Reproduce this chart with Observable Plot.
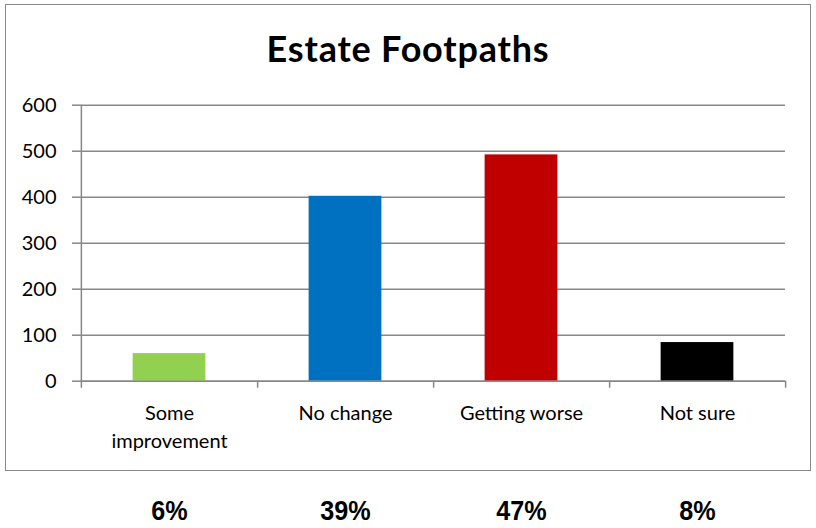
<!DOCTYPE html>
<html>
<head>
<meta charset="utf-8">
<script src="https://cdn.jsdelivr.net/npm/d3@7"></script>
<script src="https://cdn.jsdelivr.net/npm/@observablehq/plot@0.6"></script>
<style>
  body { margin: 0; background: #fff; }
  #wrap { position: relative; width: 816px; height: 528px; overflow: hidden; }
  #box { position: absolute; left: 5px; top: 4px; width: 806px; height: 467px; box-sizing: border-box; border: 1.5px solid #8a8a8a; }
  #title { position: absolute; left: 5px; width: 806px; top: 30px; text-align: center; font-family: Lato, sans-serif; font-weight: bold; font-size: 36px; line-height: 36px; letter-spacing: 0.8px; color: #000; }
  #chart { position: absolute; left: 0; top: 0; }
</style>
</head>
<body>
<div id="wrap">
  <div id="box"></div>
  <div id="title">Estate Footpaths</div>
  <div id="chart"></div>
</div>
<script>
const categories = ["Some improvement", "No change", "Getting worse", "Not sure"];
const counts = [60, 402, 492, 84];
const colors = ["#92d050", "#0070c0", "#c00000", "#000000"];
const percentLabels = ["6%", "39%", "47%", "8%"];
const yTicks = [0, 100, 200, 300, 400, 500, 600];

const data = categories.map((c, i) => ({category: c, count: counts[i], pct: percentLabels[i]}));

const W = 816, H = 528, ML = 80, MR = 31, MT = 104.7, MB = 147.3;
const bw = (W - ML - MR) / categories.length;
const barW = 73;
const inset = (bw - barW) / 2;
const grey = "#878787";

const chart = Plot.plot({
  width: W,
  height: H,
  marginLeft: ML,
  marginRight: MR,
  marginTop: MT,
  marginBottom: MB,
  style: {fontFamily: "Lato, sans-serif", background: "transparent", overflow: "visible"},
  x: {domain: categories, padding: 0, axis: null},
  y: {domain: [0, 600], axis: null},
  color: {domain: categories, range: colors},
  marks: [
    Plot.gridY(yTicks, {stroke: grey, strokeOpacity: 1, strokeWidth: 1.5}),
    Plot.axisY({ticks: yTicks, label: null, tickSize: 8, tickPadding: 16, fontSize: 20, stroke: grey, strokeWidth: 1.5, fill: "#000"}),
    Plot.barY(data, {x: "category", y: "count", fill: "category", insetLeft: inset, insetRight: inset}),
    Plot.ruleY([0], {stroke: grey, strokeWidth: 1.5}),
    Plot.ruleX([categories[0]], {x: d => d, dx: -bw / 2, y1: 600, y2: 0, insetBottom: -7, stroke: grey, strokeWidth: 1.5}),
    Plot.ruleX(categories, {x: d => d, dx: bw / 2, y1: 0, y2: 0, insetBottom: -7, stroke: grey, strokeWidth: 1.5}),
    Plot.axisX({label: null, tickSize: 0, tickPadding: 19, fontSize: 20, lineWidth: 7.5, lineHeight: 1.4, fill: "#000"}),
    Plot.text(data, {x: "category", text: "pct", frameAnchor: "bottom", dy: 130, lineAnchor: "middle",
      fontSize: 28, fontWeight: "bold", fontFamily: "'Liberation Sans', Arial, sans-serif", fill: "#000"})
  ]
});
// condense the percentage labels slightly (narrow bold face)
chart.querySelectorAll('g[font-weight="bold"] text').forEach(t => {
  const tr = t.getAttribute("transform") || "";
  t.setAttribute("transform", tr + " scale(0.9,1)");
});
document.getElementById("chart").appendChild(chart);
</script>
</body>
</html>
